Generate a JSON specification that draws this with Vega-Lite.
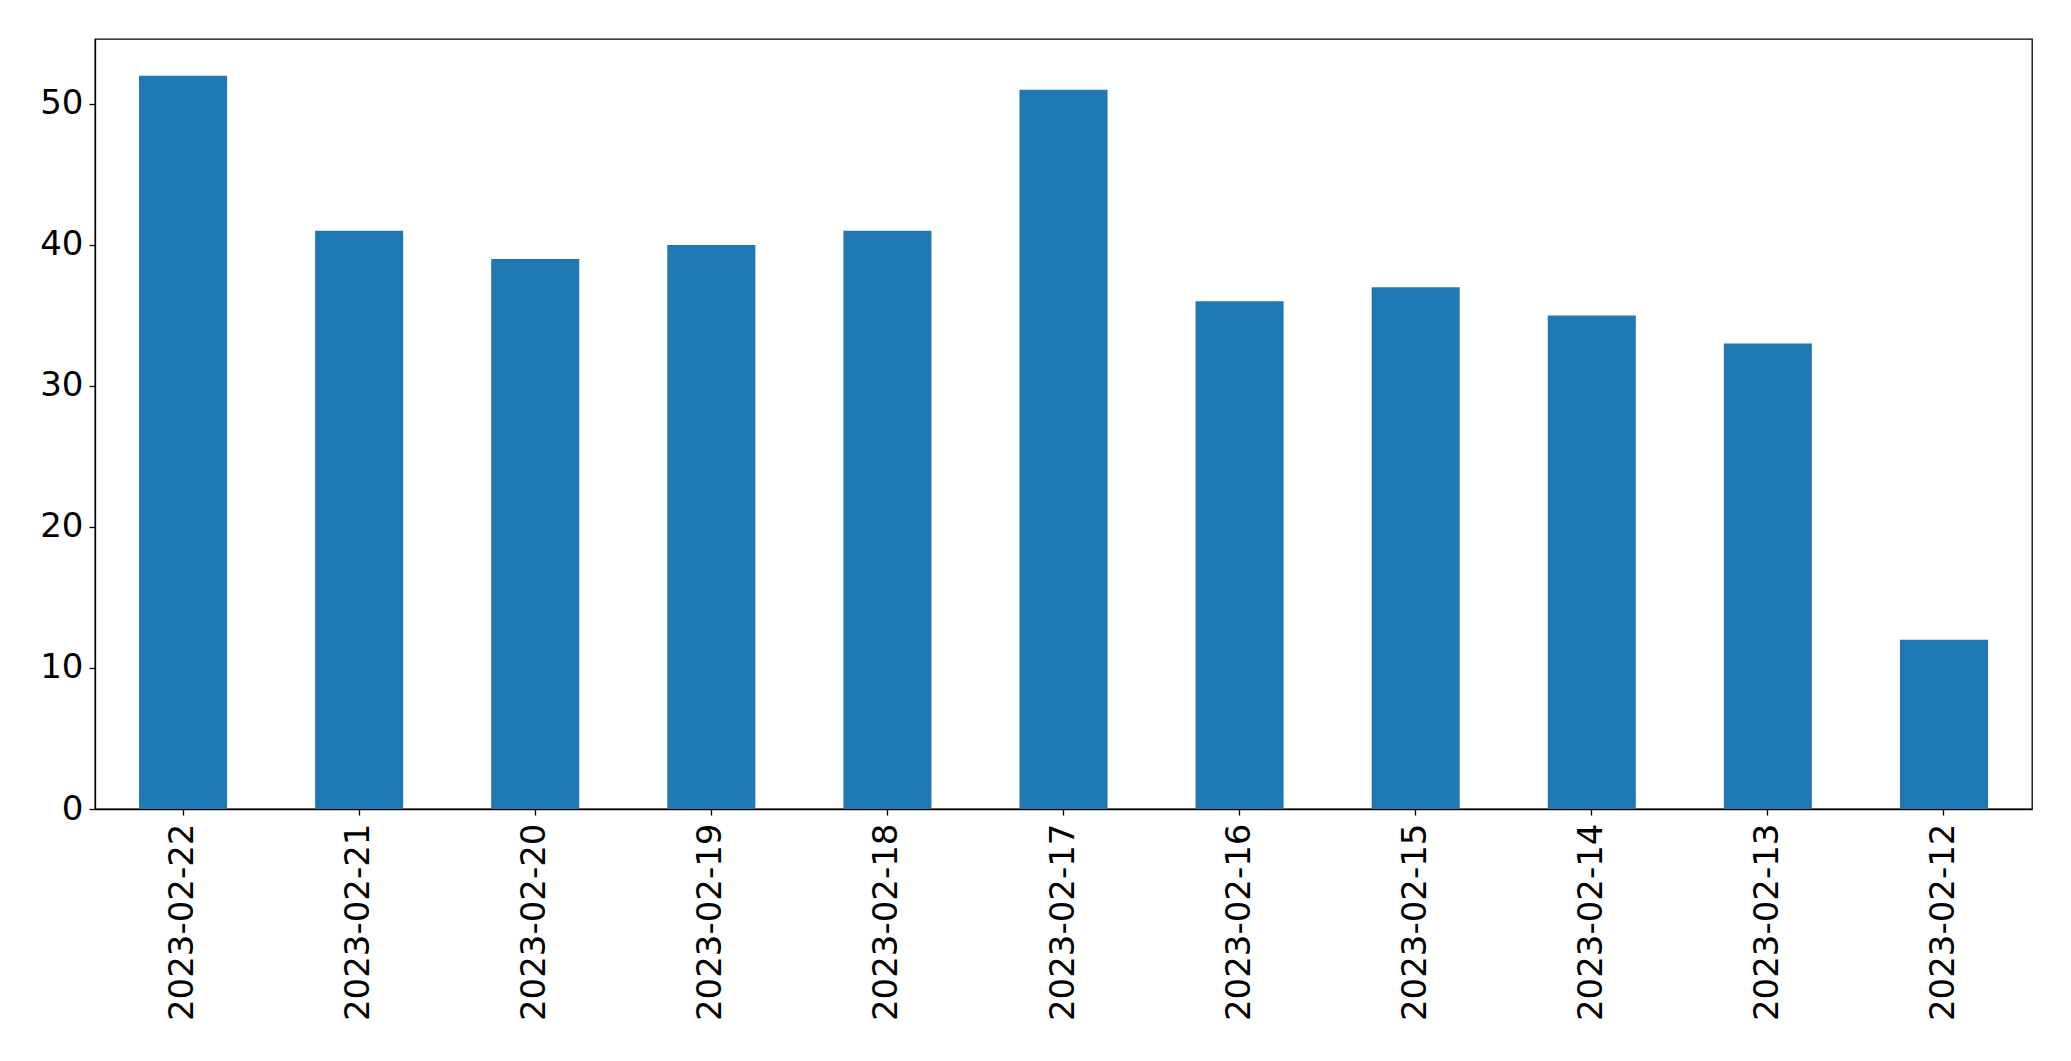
{
  "$schema": "https://vega.github.io/schema/vega-lite/v6.json",
  "autosize": {"type": "none"},
  "padding": {"left": 95, "top": 39, "right": 39, "bottom": 252},
  "width": 1937,
  "height": 770,
  "background": "white",
  "config": {
    "view": {"stroke": "black", "strokeWidth": 1.3},
    "axis": {
      "domainColor": "black",
      "domainWidth": 1.3,
      "tickColor": "black",
      "tickWidth": 1.3,
      "tickSize": 6,
      "labelColor": "black",
      "labelFont": "DejaVu Sans",
      "labelFontSize": 34,
      "labelLimit": 0,
      "grid": false,
      "title": null
    }
  },
  "data": {
    "values": [
      {"date": "2023-02-22", "count": 52},
      {"date": "2023-02-21", "count": 41},
      {"date": "2023-02-20", "count": 39},
      {"date": "2023-02-19", "count": 40},
      {"date": "2023-02-18", "count": 41},
      {"date": "2023-02-17", "count": 51},
      {"date": "2023-02-16", "count": 36},
      {"date": "2023-02-15", "count": 37},
      {"date": "2023-02-14", "count": 35},
      {"date": "2023-02-13", "count": 33},
      {"date": "2023-02-12", "count": 12}
    ]
  },
  "mark": {"type": "bar", "color": "#1f77b4"},
  "encoding": {
    "x": {
      "field": "date",
      "type": "nominal",
      "sort": null,
      "scale": {"paddingInner": 0.5, "paddingOuter": 0.25},
      "axis": {"labelAngle": -90, "labelPadding": 8}
    },
    "y": {
      "field": "count",
      "type": "quantitative",
      "scale": {"domain": [0, 54.6], "nice": false},
      "axis": {"values": [0, 10, 20, 30, 40, 50], "labelPadding": 6}
    }
  }
}
